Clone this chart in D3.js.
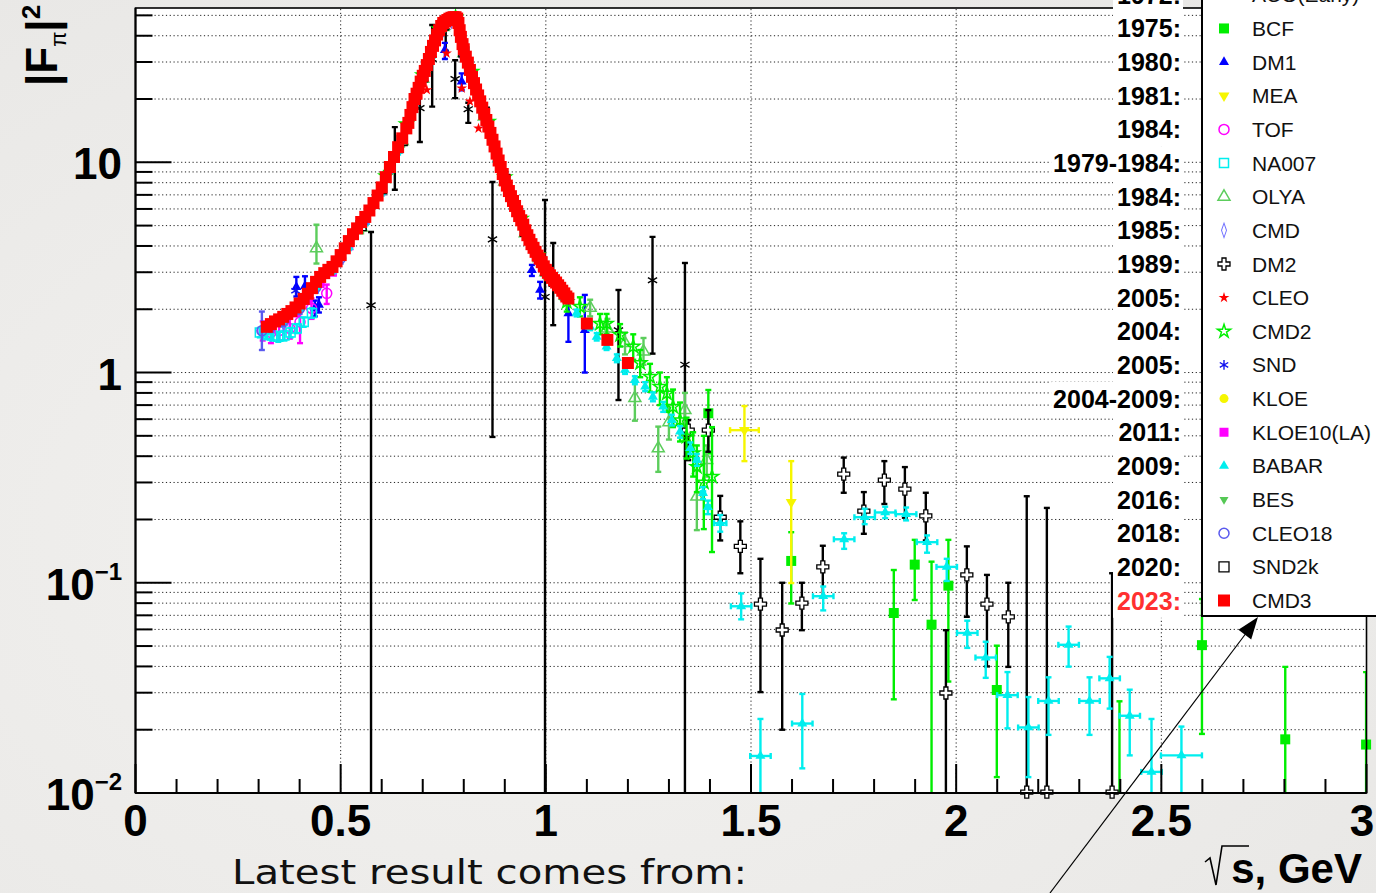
<!DOCTYPE html>
<html>
<head>
<meta charset="utf-8">
<title>|F_pi|^2</title>
<script src="https://d3js.org/d3.v7.min.js"></script>
<style>
  body { margin: 0; background: #eeedeb; }
  svg { display: block; }
</style>
</head>
<body>
<script>
// ---- data (sqrt(s) in GeV, |F_pi|^2, error bounds lo/hi, x half-width) ----
var acoX  = [0.574, 0.632, 0.693, 0.723, 0.756, 0.779, 0.811, 0.870, 0.998, 1.018, 1.177, 1.260, 1.339];
var acoY  = [2.09, 10.5, 18.1, 31, 44, 24.9, 17.9, 4.3, 2.29, 2.64, 1.59, 2.75, 1.09];
var acoLo = [0.001, 7.4, 12.5, 18.4, 34, 20.2, 15.4, 0.494, 0.001, 1.68, 0.74, 1.23, 0.001];
var acoHi = [4.66, 14.7, 23.8, 45, 50, 30.6, 19.2, 8.06, 6.62, 4.13, 2.47, 4.42, 3.32];

var bcfX  = [1.396, 1.598, 1.848, 1.899, 1.940, 1.981, 2.099, 2.398, 2.599, 2.802, 2.999];
var bcfY  = [0.64, 0.127, 0.0718, 0.122, 0.0632, 0.0969, 0.0309, 0.006, 0.0505, 0.018, 0.017];
var bcfLo = [0.413, 0.0797, 0.0279, 0.0828, 0.001, 0.0339, 0.0119, 0.001, 0.0191, 0.001, 0.001];
var bcfHi = [0.826, 0.174, 0.115, 0.16, 0.126, 0.16, 0.0502, 0.0273, 0.0837, 0.0398, 0.0376];

var dm1X  = [0.392, 0.413, 0.437, 0.447, 0.754, 0.795, 0.966, 0.986, 1.055, 1.095];
var dm1Y  = [2.55, 2.58, 2.02, 2.10, 34.2, 24.2, 3.07, 2.47, 1.91, 1.59];
var dm1Lo = [2.3, 2.32, 1.85, 1.93, 31, 22, 2.88, 2.25, 1.40, 1.0];
var dm1Hi = [2.85, 2.87, 2.2, 2.28, 37, 26.5, 3.25, 2.7, 2.29, 2.34];

var meaX  = [1.484, 1.598];
var meaY  = [0.532, 0.242];
var meaLo = [0.379, 0.0997];
var meaHi = [0.693, 0.379];
var meaEx = [0.035, 0];

var tofX  = [0.310, 0.330, 0.350, 0.376, 0.401, 0.429, 0.466];
var tofY  = [1.58, 1.55, 1.58, 1.62, 1.74, 2.02, 2.38];
var tofLo = [1.42, 1.38, 1.42, 1.45, 1.38, 1.80, 2.12];
var tofHi = [1.75, 1.72, 1.76, 1.80, 2.08, 2.25, 2.62];

var na7X  = [0.303, 0.318, 0.333, 0.348, 0.363, 0.378, 0.393, 0.410, 0.430];
var na7Y  = [1.55, 1.52, 1.50, 1.48, 1.50, 1.55, 1.62, 1.74, 1.92];
var na7Lo = [1.47, 1.44, 1.42, 1.40, 1.42, 1.47, 1.54, 1.65, 1.82];
var na7Hi = [1.63, 1.60, 1.58, 1.56, 1.58, 1.63, 1.70, 1.83, 2.02];

var olyaX  = [0.441, 0.55, 0.65, 0.70, 0.75, 0.80, 0.85, 0.90, 0.95, 1.00, 1.108, 1.150, 1.193, 1.217, 1.238, 1.274, 1.300, 1.339, 1.368, 1.392];
var olyaY  = [3.9, 4.9, 12.6, 25, 44, 33, 16.5, 8.1, 4.6, 3.0, 2.03, 1.62, 1.38, 0.756, 1.26, 0.436, 0.58, 0.663, 0.257, 0.384];
var olyaLo = [3.3, 4.6, 11.9, 23.8, 42, 31.5, 15.7, 7.7, 4.35, 2.8, 1.85, 1.45, 1.22, 0.59, 1.09, 0.337, 0.48, 0.55, 0.178, 0.32];
var olyaHi = [5.05, 5.2, 13.3, 26.2, 46, 34.5, 17.3, 8.5, 4.85, 3.2, 2.22, 1.80, 1.55, 0.92, 1.46, 0.553, 0.70, 0.80, 0.344, 0.45];

var cmdX = [0.36, 0.40, 0.45, 0.50, 0.55, 0.60, 0.65, 0.70, 0.74, 0.77, 0.80, 0.84, 0.88, 0.92, 0.96, 1.00];
var cmdY = [1.72, 2.05, 2.72, 3.45, 5.0, 7.3, 12.5, 24.5, 41, 47, 33, 19, 10.6, 6.5, 4.2, 3.0];

var dm2X  = [1.347, 1.396, 1.425, 1.474, 1.523, 1.576, 1.624, 1.675, 1.726, 1.775, 1.825, 1.875, 1.926, 1.975, 2.026, 2.075, 2.127, 2.172, 2.221, 2.380];
var dm2Y  = [0.532, 0.532, 0.205, 0.149, 0.0792, 0.0596, 0.080, 0.119, 0.329, 0.219, 0.308, 0.279, 0.208, 0.0299, 0.109, 0.0792, 0.0689, 0.0101, 0.0101, 0.0101];
var dm2Lo = [0.383, 0.42, 0.159, 0.111, 0.0302, 0.020, 0.0595, 0.0857, 0.268, 0.171, 0.237, 0.204, 0.159, 0.001, 0.0689, 0.040, 0.0398, 0.001, 0.001, 0.001];
var dm2Hi = [0.594, 0.663, 0.259, 0.196, 0.130, 0.100, 0.100, 0.150, 0.394, 0.270, 0.379, 0.355, 0.268, 0.0595, 0.149, 0.109, 0.100, 0.258, 0.227, 0.111];

var cleoX = [0.71, 0.758, 0.795, 0.815, 0.836];
var cleoY = [22.1, 33, 22.5, 19.5, 14.5];

var cmd2X  = [0.61, 0.66, 0.70, 0.74, 0.78, 0.82, 0.86, 0.90, 0.94, 0.98, 1.051, 1.083, 1.132, 1.148, 1.181, 1.213, 1.230, 1.254, 1.278, 1.295, 1.310, 1.327, 1.343, 1.359, 1.368, 1.385, 1.405];
var cmd2Y  = [8.6, 15.2, 26, 43, 49, 27, 15.6, 8.5, 5.4, 3.62, 2.17, 2.06, 1.71, 1.71, 1.51, 1.33, 1.11, 0.955, 0.856, 0.796, 0.688, 0.594, 0.495, 0.414, 0.356, 0.30, 0.32];
var cmd2Lo = [8.1, 14.4, 24.7, 41, 46.5, 25.7, 14.8, 8.0, 5.05, 3.35, 1.95, 1.85, 1.52, 1.52, 1.33, 1.15, 0.95, 0.81, 0.70, 0.65, 0.55, 0.47, 0.39, 0.32, 0.27, 0.18, 0.14];
var cmd2Hi = [9.1, 16, 27.3, 45, 51.5, 28.3, 16.4, 9.0, 5.75, 3.9, 2.4, 2.28, 1.9, 1.9, 1.7, 1.52, 1.28, 1.1, 1.0, 0.95, 0.83, 0.72, 0.61, 0.52, 0.45, 0.50, 0.55];

var sndX = [0.39, 0.40, 0.45, 0.52, 0.60, 0.66, 0.72, 0.76, 0.80, 0.86, 0.92, 0.97];
var sndY = [2.45, 2.18, 2.78, 4.15, 7.4, 14.8, 33, 47, 33, 15.4, 6.6, 3.9];

var kloeX = [0.62, 0.68, 0.74, 0.78, 0.82, 0.86, 0.90, 0.94];
var kloeY = [9.5, 19.8, 42.5, 48.5, 26.5, 15.1, 8.2, 5.25];

var kl10X = [0.33, 0.36, 0.39, 0.42, 0.45, 0.48, 0.52, 0.56, 0.60];
var kl10Y = [1.62, 1.74, 1.92, 2.2, 2.65, 3.0, 4.0, 5.3, 7.3];

var babarX  = [0.32, 0.36, 0.40, 0.44, 0.48, 0.52, 0.56, 0.60, 0.64, 0.68, 0.72, 0.76, 0.80, 0.84, 0.88, 0.92, 0.96, 1.00,
               1.047, 1.075, 1.108, 1.124, 1.148, 1.173, 1.193, 1.217, 1.242, 1.261, 1.286, 1.307, 1.327, 1.352, 1.368, 1.383, 1.395, 1.425,
               1.476, 1.523, 1.625, 1.676, 1.727, 1.777, 1.827, 1.878, 1.929, 1.977, 2.027, 2.072, 2.125, 2.176, 2.225, 2.274, 2.325, 2.374, 2.423, 2.476, 2.549];
var babarY  = [1.58, 1.72, 2.02, 2.55, 3.05, 3.95, 5.2, 7.2, 11.3, 19.0, 32, 46, 33, 18.9, 10.3, 6.4, 4.2, 3.0,
               2.26, 1.92, 1.65, 1.48, 1.33, 1.17, 1.03, 0.92, 0.856, 0.767, 0.688, 0.594, 0.523, 0.437, 0.384, 0.267, 0.229, 0.192,
               0.0773, 0.015, 0.0214, 0.0863, 0.161, 0.205, 0.216, 0.212, 0.156, 0.119, 0.0577, 0.0441, 0.0292, 0.0205, 0.0274, 0.0507, 0.0274, 0.0351, 0.0233, 0.0126, 0.0151];
var babarLo = [1.52, 1.66, 1.95, 2.46, 2.95, 3.82, 5.02, 6.95, 10.9, 18.4, 31, 44.6, 32, 18.3, 9.96, 6.18, 4.05, 2.9,
               2.18, 1.85, 1.59, 1.42, 1.28, 1.12, 0.985, 0.88, 0.815, 0.73, 0.65, 0.56, 0.49, 0.41, 0.36, 0.25, 0.212, 0.175,
               0.067, 0.001, 0.0131, 0.0739, 0.145, 0.19, 0.203, 0.198, 0.139, 0.102, 0.049, 0.0353, 0.0203, 0.0119, 0.0189, 0.0399, 0.0189, 0.0252, 0.0151, 0.001, 0.001];
var babarHi = [1.64, 1.78, 2.09, 2.64, 3.15, 4.08, 5.38, 7.45, 11.7, 19.6, 33, 47.4, 34, 19.5, 10.65, 6.62, 4.35, 3.1,
               2.34, 1.99, 1.71, 1.54, 1.38, 1.22, 1.075, 0.96, 0.9, 0.805, 0.725, 0.63, 0.556, 0.465, 0.41, 0.285, 0.246, 0.21,
               0.089, 0.0225, 0.0296, 0.096, 0.172, 0.225, 0.23, 0.228, 0.168, 0.13, 0.066, 0.0524, 0.0376, 0.0286, 0.0355, 0.0619, 0.0355, 0.0444, 0.031, 0.0225, 0.0207];
var babarEx = [0, 0, 0, 0, 0, 0, 0, 0, 0, 0, 0, 0, 0, 0, 0, 0, 0, 0,
               0, 0, 0, 0, 0, 0, 0, 0, 0, 0, 0, 0, 0, 0, 0.005, 0.005, 0.005, 0.015,
               0.025, 0.025, 0.025, 0.025, 0.025, 0.025, 0.025, 0.025, 0.025, 0.025, 0.025, 0.025, 0.025, 0.025, 0.025, 0.025, 0.025, 0.025, 0.025, 0.025, 0.05];

var besX = [0.62, 0.66, 0.70, 0.74, 0.78, 0.82, 0.86, 0.90];
var besY = [9.6, 14.8, 25.5, 42.5, 49, 26.3, 15.5, 8.3];

var c18X  = [0.308, 0.33, 0.36, 0.40, 0.44, 0.50, 0.56, 0.62, 0.68, 0.74, 0.80, 0.86, 0.92, 0.98, 1.04];
var c18Y  = [1.58, 1.66, 1.76, 2.02, 2.55, 3.5, 5.4, 9.4, 19.6, 41, 32.5, 14.7, 6.5, 3.5, 2.4];
var c18Lo = [1.28, 1.56, 1.66, 1.9, 2.4, 3.3, 5.1, 8.9, 18.6, 39, 31, 13.9, 6.15, 3.3, 2.25];
var c18Hi = [1.95, 1.76, 1.86, 2.14, 2.7, 3.7, 5.7, 9.9, 20.6, 43, 34, 15.5, 6.85, 3.7, 2.55];

var s2kX = [0.55, 0.60, 0.65, 0.70, 0.75, 0.80, 0.85, 0.90, 0.95, 1.00];
var s2kY = [5.0, 7.5, 12.7, 25.5, 45, 33.5, 17.3, 8.3, 4.7, 3.05];

var cmd3X = [0.320, 0.330, 0.340, 0.350, 0.360, 0.370, 0.380, 0.390, 0.400, 0.410, 0.420, 0.430, 0.440, 0.450, 0.460,
             0.470, 0.480, 0.490, 0.500, 0.510, 0.520, 0.530, 0.540, 0.550, 0.560, 0.570, 0.580, 0.590, 0.600, 0.610,
             0.620, 0.630, 0.640, 0.650, 0.660, 0.665, 0.670, 0.675, 0.680, 0.685, 0.690, 0.695, 0.700, 0.705, 0.710,
             0.715, 0.720, 0.725, 0.730, 0.735, 0.740, 0.745, 0.750, 0.755, 0.760, 0.765, 0.770, 0.775, 0.780, 0.784,
             0.787, 0.790, 0.793, 0.797, 0.800, 0.805, 0.810, 0.815, 0.820, 0.825, 0.830, 0.835, 0.840, 0.845, 0.850,
             0.855, 0.860, 0.865, 0.870, 0.875, 0.880, 0.885, 0.890, 0.895, 0.900, 0.905, 0.910, 0.915, 0.920, 0.925,
             0.930, 0.935, 0.940, 0.945, 0.950, 0.955, 0.960, 0.965, 0.970, 0.975, 0.980, 0.985, 0.990, 0.995, 1.000,
             1.005, 1.010, 1.015, 1.020, 1.025, 1.030, 1.035, 1.040, 1.045, 1.050, 1.055, 1.100, 1.150, 1.200];
var cmd3Y = [1.65, 1.70, 1.75, 1.79, 1.84, 1.90, 1.96, 2.04, 2.13, 2.24, 2.37, 2.52, 2.70, 2.85, 2.97,
             3.08, 3.18, 3.38, 3.62, 3.90, 4.22, 4.55, 4.85, 5.20, 5.50, 5.90, 6.40, 6.95, 7.60, 8.50,
             9.50, 10.6, 11.8, 13.0, 14.5, 15.4, 16.8, 18.3, 20.0, 21.2, 22.6, 24.2, 25.8, 27.2, 29.0,
             31.0, 33.5, 35.8, 38.0, 40.5, 42.5, 44.5, 46.0, 46.8, 47.5, 48.2, 48.7, 49.0, 49.0, 48.3,
             46.0, 42.5, 39.5, 36.5, 34.5, 31.8, 29.8, 27.5, 25.5, 23.8, 22.2, 20.8, 19.5, 18.2, 17.0,
             15.9, 14.8, 13.8, 12.8, 11.9, 11.0, 10.2, 9.50, 8.80, 8.20, 7.75, 7.30, 6.90, 6.55, 6.20,
             5.85, 5.55, 5.30, 5.05, 4.75, 4.50, 4.28, 4.08, 3.92, 3.75, 3.60, 3.48, 3.35, 3.20, 3.08,
             2.98, 2.90, 2.82, 2.75, 2.68, 2.60, 2.53, 2.45, 2.38, 2.30, 2.25, 1.71, 1.43, 1.11];

var xTickLabels = ['0', '0.5', '1', '1.5', '2', '2.5', '3'];
var yDecades = [0.01, 0.1, 1, 10];

// ---- layout ----
var W = 1376, H = 893;
var svg = d3.select('body').append('svg').attr('width', W).attr('height', H);
var FONT = "'Liberation Sans', Arial, Helvetica, sans-serif";

var x = d3.scaleLinear().domain([0, 3]).range([135.5, 1366.5]);
var y = d3.scaleLog().domain([0.01, 54.2]).range([793, 8]);

// background marble-ish
var defs = svg.append('defs');
var bg = defs.append('radialGradient').attr('id', 'bg').attr('cx', '40%').attr('cy', '60%').attr('r', '80%');
bg.append('stop').attr('offset', '0%').attr('stop-color', '#f3f2f0');
bg.append('stop').attr('offset', '100%').attr('stop-color', '#e8e7e5');
svg.append('rect').attr('width', W).attr('height', H).attr('fill', 'url(#bg)');

defs.append('clipPath').attr('id', 'plotclip').append('rect')
  .attr('x', x(0)).attr('y', y(54.2)).attr('width', x(3) - x(0)).attr('height', y(0.01) - y(54.2));

svg.append('rect').attr('x', x(0)).attr('y', y(54.2))
  .attr('width', x(3) - x(0)).attr('height', y(0.01) - y(54.2)).attr('fill', '#fff');

// log ticks
var yTicks = [];
yDecades.forEach(function(d) {
  for (var k = 1; k <= 9; k++) {
    var v = d * k;
    if (v >= 0.01 && v <= 54.2) yTicks.push({v: v, major: k === 1});
  }
});

// grid
var grid = svg.append('g').attr('stroke', '#222').attr('stroke-width', 1).attr('stroke-dasharray', '1.2,2.6');
yTicks.forEach(function(t) {
  if (t.v === 0.01) return;
  grid.append('line').attr('x1', x(0)).attr('x2', x(3)).attr('y1', y(t.v)).attr('y2', y(t.v));
});
[0.5, 1, 1.5, 2, 2.5].forEach(function(v) {
  grid.append('line').attr('x1', x(v)).attr('x2', x(v)).attr('y1', y(0.01)).attr('y2', y(54.2));
});

// ---- markers ----
function symPath(mk, s) {
  var t = {
    sq: [d3.symbolSquare, s * s], tri: [d3.symbolTriangle, 0.433 * s * s], circ: [d3.symbolCircle, Math.PI * s * s / 4],
    dia: [d3.symbolDiamond, s * s * 0.6], cross: [d3.symbolCross, s * s * 5 / 9], star: [d3.symbolStar, s * s * 0.45],
    ast: [d3.symbolAsterisk, s * s * 0.55]
  }[mk];
  return d3.symbol(t[0], t[1])();
}

function drawMarker(g, s, px, py) {
  var p = g.append('path').attr('d', symPath(s.mk, s.size))
    .attr('transform', 'translate(' + px + ',' + py + ')' + (s.rot ? ' rotate(180)' : '') + (s.sx ? ' scale(' + s.sx + ',1)' : ''));
  if (s.open) {
    p.attr('fill', s.inner || 'none').attr('stroke', s.color).attr('stroke-width', s.sw || 1.5);
  } else if (s.mk === 'ast') {
    p.attr('fill', 'none').attr('stroke', s.color).attr('stroke-width', s.sw || 1.4);
  } else {
    p.attr('fill', s.color);
  }
}

var series = [
  {name: 'ACO(Early)', year: '1972:', color: '#000000', mk: 'ast', size: 12, x: acoX, y: acoY, lo: acoLo, hi: acoHi},
  {name: 'BCF', year: '1975:', color: '#00ee00', mk: 'sq', size: 10, x: bcfX, y: bcfY, lo: bcfLo, hi: bcfHi},
  {name: 'DM1', year: '1980:', color: '#0000ff', mk: 'tri', size: 10, x: dm1X, y: dm1Y, lo: dm1Lo, hi: dm1Hi},
  {name: 'MEA', year: '1981:', color: '#f6f600', mk: 'tri', rot: true, size: 11, x: meaX, y: meaY, lo: meaLo, hi: meaHi, ex: meaEx},
  {name: 'TOF', year: '1984:', color: '#ff00ff', mk: 'circ', open: true, size: 10, x: tofX, y: tofY, lo: tofLo, hi: tofHi},
  {name: 'NA007', year: '1979-1984:', color: '#00eeee', mk: 'sq', open: true, size: 9, x: na7X, y: na7Y, lo: na7Lo, hi: na7Hi},
  {name: 'OLYA', year: '1984:', color: '#5ccd5c', mk: 'tri', open: true, size: 12, x: olyaX, y: olyaY, lo: olyaLo, hi: olyaHi},
  {name: 'CMD', year: '1985:', color: '#7070ff', mk: 'dia', open: true, sx: 0.6, size: 10, x: cmdX, y: cmdY},
  {name: 'DM2', year: '1989:', color: '#000000', mk: 'cross', open: true, inner: '#fff', sw: 1.3, size: 12, x: dm2X, y: dm2Y, lo: dm2Lo, hi: dm2Hi},
  {name: 'CLEO', year: '2005:', color: '#ff0000', mk: 'star', size: 9, x: cleoX, y: cleoY},
  {name: 'CMD2', year: '2004:', color: '#00f000', mk: 'star', open: true, size: 11, x: cmd2X, y: cmd2Y, lo: cmd2Lo, hi: cmd2Hi},
  {name: 'SND', year: '2005:', color: '#1010ee', mk: 'ast', size: 11, x: sndX, y: sndY},
  {name: 'KLOE', year: '2004-2009:', color: '#f6f600', mk: 'circ', size: 9, x: kloeX, y: kloeY},
  {name: 'KLOE10(LA)', year: '2011:', color: '#ff00ff', mk: 'sq', size: 9, x: kl10X, y: kl10Y},
  {name: 'BABAR', year: '2009:', color: '#00eeee', mk: 'tri', size: 10, x: babarX, y: babarY, lo: babarLo, hi: babarHi, ex: babarEx},
  {name: 'BES', year: '2016:', color: '#55c855', mk: 'tri', rot: true, size: 9, x: besX, y: besY},
  {name: 'CLEO18', year: '2018:', color: '#5a5aee', mk: 'circ', open: true, size: 10, x: c18X, y: c18Y, lo: c18Lo, hi: c18Hi},
  {name: 'SND2k', year: '2020:', color: '#000000', mk: 'sq', open: true, sw: 1.3, size: 10, x: s2kX, y: s2kY},
  {name: 'CMD3', year: '2023:', color: '#ff0000', mk: 'sq', size: 12, x: cmd3X, y: cmd3Y}
];

var plot = svg.append('g');
var CAP = 3;
series.forEach(function(s) {
  var g = plot.append('g');
  var eg = g.append('g').attr('clip-path', 'url(#plotclip)').attr('stroke', s.color).attr('stroke-width', 2.4);
  s.x.forEach(function(xv, i) {
    var px = x(xv), py = y(Math.max(s.y[i], 0.0001));
    if (s.lo) {
      var ylo = y(Math.max(s.lo[i], 0.0001)), yhi = y(s.hi[i]);
      eg.append('line').attr('x1', px).attr('x2', px).attr('y1', ylo).attr('y2', yhi);
      eg.append('line').attr('x1', px - CAP).attr('x2', px + CAP).attr('y1', ylo).attr('y2', ylo);
      eg.append('line').attr('x1', px - CAP).attr('x2', px + CAP).attr('y1', yhi).attr('y2', yhi);
    }
    if (s.ex && s.ex[i] > 0) {
      var xl = x(xv - s.ex[i]), xr = x(xv + s.ex[i]);
      eg.append('line').attr('x1', xl).attr('x2', xr).attr('y1', py).attr('y2', py);
      eg.append('line').attr('x1', xl).attr('x2', xl).attr('y1', py - CAP).attr('y2', py + CAP);
      eg.append('line').attr('x1', xr).attr('x2', xr).attr('y1', py - CAP).attr('y2', py + CAP);
    }
  });
  s.x.forEach(function(xv, i) {
    if (s.y[i] < 0.01 || s.y[i] > 54.2) return;
    drawMarker(g, s, x(xv), y(s.y[i]));
  });
});

// ---- axes / frame ----
var ax = svg.append('g').attr('stroke', '#000').attr('stroke-width', 2);
ax.append('rect').attr('x', x(0)).attr('y', y(54.2)).attr('width', x(3) - x(0)).attr('height', y(0.01) - y(54.2))
  .attr('fill', 'none').attr('stroke-width', 1.6);
ax.append('line').attr('x1', x(0)).attr('x2', x(3)).attr('y1', y(0.01)).attr('y2', y(0.01));
ax.append('line').attr('x1', x(0)).attr('x2', x(0)).attr('y1', y(0.01)).attr('y2', y(54.2));
d3.range(0, 31).forEach(function(i) {
  var v = i / 10, major = i % 5 === 0;
  ax.append('line').attr('x1', x(v)).attr('x2', x(v)).attr('y1', y(0.01)).attr('y2', y(0.01) - (major ? 29 : 14));
});
yTicks.forEach(function(t) {
  ax.append('line').attr('x1', x(0)).attr('x2', x(0) + (t.major ? 36 : 17)).attr('y1', y(t.v)).attr('y2', y(t.v));
});

// tick labels
xTickLabels.forEach(function(l) {
  svg.append('text').attr('x', Math.min(x(+l), W - 14)).attr('y', 836).attr('text-anchor', 'middle')
    .attr('font-family', FONT).attr('font-weight', 'bold').attr('font-size', 44).text(l);
});
yDecades.forEach(function(d) {
  var t = svg.append('text').attr('x', 122).attr('y', y(d) + 17).attr('text-anchor', 'end')
    .attr('font-family', FONT).attr('font-weight', 'bold').attr('font-size', 44);
  if (d === 10) t.text('10');
  else if (d === 1) t.text('1');
  else {
    t.append('tspan').text('10');
    t.append('tspan').attr('font-size', 24).attr('dy', -20).text(d === 0.1 ? '\u22121' : '\u22122');
  }
});

// axis titles
var yt = svg.append('text').attr('transform', 'translate(57,86) rotate(-90)')
  .attr('font-family', FONT).attr('font-weight', 'bold').attr('font-size', 44);
yt.append('tspan').text('|F');
yt.append('tspan').attr('font-size', 22).attr('font-weight', 'normal').attr('dy', 9).text('\u03c0');
yt.append('tspan').attr('dy', -9).text('|');
yt.append('tspan').attr('font-size', 26).attr('dy', -17).text('2');

svg.append('text').attr('x', 1362).attr('y', 883).attr('text-anchor', 'end')
  .attr('font-family', FONT).attr('font-weight', 'bold').attr('font-size', 42).text('s, GeV');
svg.append('path').attr('d', 'M1205,862 L1210,858 L1216,885 L1222,846 L1249,846')
  .attr('fill', 'none').attr('stroke', '#000').attr('stroke-width', 1.6);

svg.append('text').attr('x', 232).attr('y', 884)
  .attr('font-family', "'Comic Sans MS', 'DejaVu Sans', sans-serif").attr('font-size', 33)
  .attr('textLength', 515).attr('lengthAdjust', 'spacingAndGlyphs').attr('fill', '#111')
  .text('Latest result comes from:');

// ---- year labels + legend ----
var ROW0 = -5.2, ROWH = 33.65;
var yrG = svg.append('g');
series.forEach(function(s, i) {
  var cy = ROW0 + i * ROWH;
  var t = yrG.append('text').attr('x', 1181).attr('y', cy + 9).attr('text-anchor', 'end')
    .attr('font-family', FONT).attr('font-weight', 'bold').attr('font-size', 25)
    .attr('fill', s.name === 'CMD3' ? '#ff3030' : '#000').text(s.year);
  var bb = t.node().getBBox();
  var left = Math.min(1113, bb.x - 2);
  yrG.insert('rect', 'text').attr('x', left).attr('y', cy - ROWH / 2).attr('width', 1183 - left).attr('height', ROWH + 0.5)
    .attr('fill', '#fff');
});

var leg = svg.append('g');
leg.append('rect').attr('x', 1202).attr('y', -10).attr('width', 200).attr('height', 626)
  .attr('fill', '#fff').attr('stroke', '#000').attr('stroke-width', 2);
series.forEach(function(s, i) {
  var cy = ROW0 + i * ROWH;
  drawMarker(leg, s, 1224, cy);
  leg.append('text').attr('x', 1252).attr('y', cy + 7.5).attr('font-family', FONT).attr('font-size', 21)
    .attr('fill', '#111').text(s.name);
});

// arrow
svg.append('line').attr('x1', 1050).attr('y1', 893).attr('x2', 1247).attr('y2', 632)
  .attr('stroke', '#000').attr('stroke-width', 1.2);
svg.append('path').attr('d', 'M1258,617 L1251.2,639.4 L1238.4,629.8 Z').attr('fill', '#000');
</script>
</body>
</html>
